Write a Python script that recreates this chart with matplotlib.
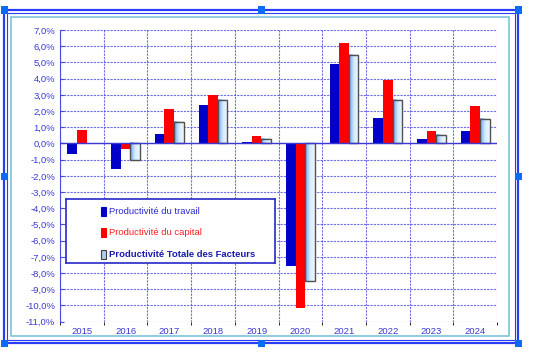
import numpy as np
import matplotlib
matplotlib.use('Agg')
import matplotlib.pyplot as plt
from matplotlib.patches import Rectangle
from matplotlib.ticker import FuncFormatter, MultipleLocator

years = ['2015', '2016', '2017', '2018', '2019', '2020', '2021', '2022', '2023', '2024']
travail = [-0.65, -1.6, 0.6, 2.4, 0.1, -7.55, 4.9, 1.6, 0.28, 0.77]
capital = [0.85, -0.35, 2.1, 3.0, 0.45, -10.15, 6.22, 3.92, 0.77, 2.33]
ptf = [0.0, -1.05, 1.3, 2.7, 0.3, -8.47, 5.46, 2.67, 0.52, 1.53]
labels = ['Productivité du travail', 'Productivité du capital', 'Productivité Totale des Facteurs']

plt.rcParams['font.family'] = ['Liberation Sans', 'DejaVu Sans']
txt_blue = '#3a3ad0'
grid_blue = '#4a4ae0'

W, H = 541, 359
fig = plt.figure(figsize=(W / 100, H / 100), dpi=100)


def px(x, y, w, h, **kw):
    # rectangle in pixel coords (top-left origin)
    fig.add_artist(Rectangle((x / W, 1 - (y + h) / H), w / W, h / H,
                             transform=fig.transFigure, **kw))


# chart frame (light teal) and selection frame (blue double line)
px(11, 17, 498, 319, fill=False, ec='#7cc4d8', lw=1.2)
px(4, 10, 514, 333, fill=False, ec='#2a3cf5', lw=1.6)
px(7, 13, 508, 327, fill=False, ec='#2a3cf5', lw=0.8)
for hx, hy in [(4, 10), (261, 10), (518, 10), (4, 176), (518, 176), (4, 343), (261, 343), (518, 343)]:
    px(hx - 3.5, hy - 3.5, 7, 7, fc='#0a6cf5', ec='none', zorder=5)

ax = fig.add_axes([60 / W, 1 - 321.7 / H, (497 - 60) / W, (321.7 - 30) / H])
x = np.arange(len(years))
bw = 0.22
ax.bar(x - bw, travail, bw, color='#0000c8', zorder=3)
ax.bar(x, capital, bw, color='#ff0000', zorder=3)

# TFP bars with a light-blue gradient
grad = np.linspace(0, 1, 64).reshape(1, -1)
cmap = matplotlib.colors.LinearSegmentedColormap.from_list('g', ['#5fa8f5', '#d6ebff', '#eef6ff'])
for xi, v in zip(x, ptf):
    if v == 0:
        continue
    y0, y1 = min(0, v), max(0, v)
    ax.imshow(grad, cmap=cmap, aspect='auto', extent=(xi + bw / 2, xi + 1.5 * bw, y0, y1), zorder=3)
    ax.add_patch(Rectangle((xi + bw / 2, y0), bw, y1 - y0, fill=False, ec='#505050', lw=1.0, zorder=4))

ax.set_xlim(-0.5, len(years) - 0.5)
ax.set_ylim(-11, 7)
ax.set_xticks(x)
ax.set_xticklabels(years)
ax.set_xticks(np.arange(-0.5, len(years)), minor=True)
ax.yaxis.set_major_locator(MultipleLocator(1))
ax.yaxis.set_major_formatter(FuncFormatter(lambda v, p: ('%.1f%%' % v).replace('.', ',').replace('-0,0', '0,0')))
ax.tick_params(axis='both', colors=txt_blue, labelsize=6.8, length=0)
ax.tick_params(axis='y', which='major', length=3, color=grid_blue, direction='in')
ax.tick_params(axis='x', pad=4)
ax.grid(True, axis='y', which='major', ls=(0, (2, 1)), color=grid_blue, lw=0.8, alpha=0.8)
ax.grid(True, axis='x', which='minor', ls=(0, (2, 1)), color=grid_blue, lw=0.8, alpha=0.8)
ax.grid(False, axis='x', which='major')
for s in ['top', 'right', 'bottom']:
    ax.spines[s].set_visible(False)
ax.spines['left'].set_color(grid_blue)
ax.axhline(0, color='#3a3ad0', lw=1.0, zorder=4)

# legend box
lax = fig.add_axes([66 / W, 1 - 263 / H, (275 - 66) / W, (263 - 199) / H])
lax.set_xlim(0, 1)
lax.set_ylim(0, 1)
lax.set_xticks([])
lax.set_yticks([])
for s in lax.spines.values():
    s.set_color('#2828c8')
    s.set_linewidth(1.2)
lax.set_zorder(6)
ys = [0.80, 0.47, 0.14]
fcs = ['#0000c8', '#ff0000', '#a8d0f5']
ecs = ['#0000c8', '#ff0000', '#404040']
tcs = ['#2a2ad0', '#ff2020', '#1a1ab0']
wts = ['normal', 'normal', 'bold']
for yy, fc, ec, tc, wt, lab in zip(ys, fcs, ecs, tcs, wts, labels):
    lax.add_patch(Rectangle((0.168, yy - 0.07), 0.025, 0.14, fc=fc, ec=ec, lw=0.8))
    lax.text(0.205, yy, lab, color=tc, fontsize=6.8, fontweight=wt, va='center', ha='left')

fig.savefig('out.png', dpi=100)
